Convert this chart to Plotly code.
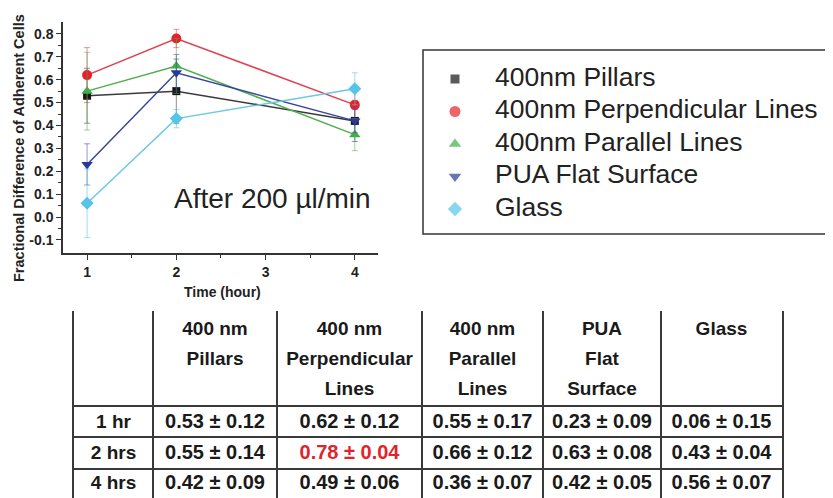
import plotly.graph_objects as go

# ---------------- data ----------------
times = [1, 2, 4]
series_names = ["400nm Pillars", "400nm Perpendicular Lines", "400nm Parallel Lines",
                "PUA Flat Surface", "Glass"]
pillars = [0.53, 0.55, 0.42]
pillars_err = [0.12, 0.14, 0.09]
perpendicular = [0.62, 0.78, 0.49]
perpendicular_err = [0.12, 0.04, 0.06]
parallel = [0.55, 0.66, 0.36]
parallel_err = [0.17, 0.12, 0.07]
pua_flat = [0.23, 0.63, 0.42]
pua_flat_err = [0.09, 0.08, 0.05]
glass = [0.06, 0.43, 0.56]
glass_err = [0.15, 0.04, 0.07]

x_ticks = [1, 2, 3, 4]
y_tickvals = [-0.1, 0.0, 0.1, 0.2, 0.3, 0.4, 0.5, 0.6, 0.7, 0.8]
y_ticktext = ["-0.1", "0.0", "0.1", "0.2", "0.3", "0.4", "0.5", "0.6", "0.7", "0.8"]

table_col_headers = [
    [],
    ["400 nm", "Pillars"],
    ["400 nm", "Perpendicular", "Lines"],
    ["400 nm", "Parallel", "Lines"],
    ["PUA", "Flat", "Surface"],
    ["Glass"],
]
table_row_labels = ["1 hr", "2 hrs", "4 hrs"]

# ---------------- styles ----------------
FONT = "Arial, Liberation Sans, sans-serif"
colors = ["#161616", "#e3232c", "#3fae4a", "#283a98", "#55c4e8"]
line_colors = ["#3a3a3a", "#e0404c", "#4faf4f", "#3a44a0", "#6cc8e4"]
err_colors = ["rgba(60,60,60,0.55)", "rgba(225,60,70,0.55)", "rgba(80,170,80,0.55)",
              "rgba(60,70,170,0.55)", "rgba(100,195,230,0.6)"]
symbols = ["square", "circle", "triangle-up", "triangle-down", "diamond"]
sizes = [8, 10, 10, 10, 10]

W, H = 833, 498
OX, OY = 8, 8  # page body margin offset


def px_x(p):
    return (p - OX) / W


def px_y(p):
    return 1 - (p - OY) / H


values = [pillars, perpendicular, parallel, pua_flat, glass]
errors = [pillars_err, perpendicular_err, parallel_err, pua_flat_err, glass_err]

fig = go.Figure()

# connecting lines
for name, v, lc in zip(series_names, values, line_colors):
    fig.add_trace(go.Scatter(
        x=times, y=v, name=name, mode="lines", showlegend=False,
        line=dict(color=lc, width=1.5), xaxis="x", yaxis="y",
    ))
# markers with error bars
for name, v, e, c, ec, s, sz in zip(series_names, values, errors, colors,
                                    err_colors, symbols, sizes):
    fig.add_trace(go.Scatter(
        x=times, y=v, name=name, mode="markers", showlegend=False,
        marker=dict(symbol=s, size=sz, color=c, line=dict(width=0)),
        error_y=dict(type="data", array=e, visible=True, color=ec,
                     thickness=1, width=3),
        xaxis="x", yaxis="y",
    ))

# ---------------- legend (own axes) ----------------
leg_idx = list(range(len(series_names)))
fig.add_trace(go.Scatter(
    x=[32] * len(leg_idx), y=leg_idx, mode="markers", showlegend=False,
    hoverinfo="skip",
    marker=dict(symbol=symbols, size=[9, 11, 11, 11, 11], color=colors,
                line=dict(width=0)),
    xaxis="x3", yaxis="y3",
))
fig.add_trace(go.Scatter(
    x=[72] * len(leg_idx), y=leg_idx, mode="text", text=series_names,
    textposition="middle right", showlegend=False, hoverinfo="skip",
    textfont=dict(family=FONT, size=26.5, color="#222222"),
    xaxis="x3", yaxis="y3",
))

# ---------------- table (own axes) ----------------
col_widths = [79, 124, 145, 121, 118, 121]
edges = [0]
for w in col_widths:
    edges.append(edges[-1] + w)
centers = [(edges[i] + edges[i + 1]) / 2 for i in range(len(col_widths))]

header_line_pos = [0.58, 1.55, 2.5]
row_pos = [3.55, 4.53, 5.5]

hx, hy, ht = [], [], []
for ci, lines in enumerate(table_col_headers):
    for li, line in enumerate(lines):
        hx.append(centers[ci]); hy.append(header_line_pos[li])
        ht.append("<b>" + line + "</b>")

rx, ry, rt = [], [], []
for ri, lab in enumerate(table_row_labels):
    rx.append(centers[0]); ry.append(row_pos[ri]); rt.append("<b>" + lab + "</b>")

best = max(max(v) for v in values)
vx, vy, vt, vc = [], [], [], []
for ri in range(len(table_row_labels)):
    for si in range(len(values)):
        val, err = values[si][ri], errors[si][ri]
        vx.append(centers[si + 1]); vy.append(row_pos[ri])
        vt.append("<b>%.2f \u00b1 %.2f</b>" % (val, err))
        vc.append("#e3232c" if val == best else "#1a1a1a")

for x_, y_, t_, c_, fs in [(hx, hy, ht, "#1a1a1a", 19), (rx, ry, rt, "#1a1a1a", 19),
                           (vx, vy, vt, vc, 20)]:
    fig.add_trace(go.Scatter(
        x=x_, y=y_, text=t_, mode="text", showlegend=False, hoverinfo="skip",
        textfont=dict(family=FONT, size=fs, color=c_),
        textposition="middle center", xaxis="x2", yaxis="y2",
    ))

# table geometry (reference pixel coordinates)
unit = 31.33
tab_top_px = 312
top_pad = 0.03
y2_bottom = (H + OY - tab_top_px) / unit
y2_domain_top = px_y(tab_top_px - top_pad * unit)

# legend geometry
leg_left_px, leg_top_px, leg_bot_px = 423, 50, 234
leg_first_px, leg_step_px = 79, 32.5

tick_font = dict(family=FONT, size=14, color="#222222")
hidden = dict(visible=False, showgrid=False, zeroline=False, fixedrange=True)

fig.update_layout(
    width=W, height=H,
    margin=dict(l=0, r=0, t=0, b=0, autoexpand=False),
    paper_bgcolor="white", plot_bgcolor="white",
    font=dict(family=FONT, color="#222222"),
    showlegend=False,
    xaxis=dict(
        domain=[px_x(63), px_x(378)], range=[0.73, 4.26],
        tickvals=x_ticks, ticktext=[f"<b>{t}</b>" for t in x_ticks],
        ticks="outside", ticklen=5, tickwidth=1, tickcolor="#333",
        minor=dict(tickvals=[1.5, 2.5, 3.5], ticks="outside", ticklen=3,
                   tickcolor="#333", showgrid=False),
        showline=True, linecolor="#333", linewidth=1.5,
        showgrid=False, zeroline=False, tickfont=tick_font,
        anchor="y",
    ),
    yaxis=dict(
        domain=[px_y(253), px_y(22)], range=[-0.157, 0.852],
        tickvals=y_tickvals, ticktext=[f"<b>{t}</b>" for t in y_ticktext],
        ticks="outside", ticklen=5, tickwidth=1, tickcolor="#333",
        minor=dict(tickvals=[v + 0.05 for v in y_tickvals[:-1]], ticks="outside",
                   ticklen=3, tickcolor="#333", showgrid=False),
        showline=True, linecolor="#333", linewidth=1.5,
        showgrid=False, zeroline=False, tickfont=tick_font,
        anchor="x",
    ),
    xaxis2=dict(
        domain=[px_x(74), px_x(782)], range=[0, edges[-1]],
        tickvals=edges[1:-1], showticklabels=False, ticks="",
        showgrid=True, gridcolor="#3a3a3a", gridwidth=1.5,
        zeroline=False, showline=False, anchor="y2", fixedrange=True,
    ),
    yaxis2=dict(
        domain=[0, y2_domain_top], range=[y2_bottom, -top_pad],
        tickvals=[0, 3, 4, 5], showticklabels=False, ticks="",
        showgrid=True, gridcolor="#3a3a3a", gridwidth=1.5,
        zeroline=False, showline=True, mirror=True, linecolor="#3a3a3a",
        linewidth=1.5, anchor="x2", fixedrange=True,
    ),
    xaxis3=dict(domain=[px_x(leg_left_px), 1.0],
                range=[0, W + OX - leg_left_px], anchor="y3", **hidden),
    yaxis3=dict(domain=[px_y(leg_bot_px), px_y(leg_top_px)],
                range=[(leg_bot_px - leg_first_px) / leg_step_px,
                       (leg_top_px - leg_first_px) / leg_step_px],
                anchor="x3", **hidden),
    shapes=[
        dict(type="rect", xref="paper", yref="paper",
             x0=px_x(leg_left_px), x1=1.05, y0=px_y(leg_bot_px), y1=px_y(leg_top_px),
             line=dict(color="#333", width=1.5), fillcolor="rgba(0,0,0,0)",
             layer="below"),
    ],
    annotations=[
        dict(text="After 200 \u00b5l/min", x=px_x(272), y=px_y(198),
             xref="paper", yref="paper", showarrow=False,
             font=dict(family=FONT, size=28, color="#222222"),
             xanchor="center", yanchor="middle"),
        dict(text="<b>Fractional Difference of Adherent Cells</b>",
             x=px_x(19), y=px_y(148),
             xref="paper", yref="paper", showarrow=False, textangle=-90,
             font=dict(family=FONT, size=14.5, color="#222222"),
             xanchor="center", yanchor="middle"),
        dict(text="<b>Time (hour)</b>", x=px_x(222), y=px_y(292),
             xref="paper", yref="paper", showarrow=False,
             font=dict(family=FONT, size=14, color="#222222"),
             xanchor="center", yanchor="middle"),
    ],
)

fig.write_html("out.html")
